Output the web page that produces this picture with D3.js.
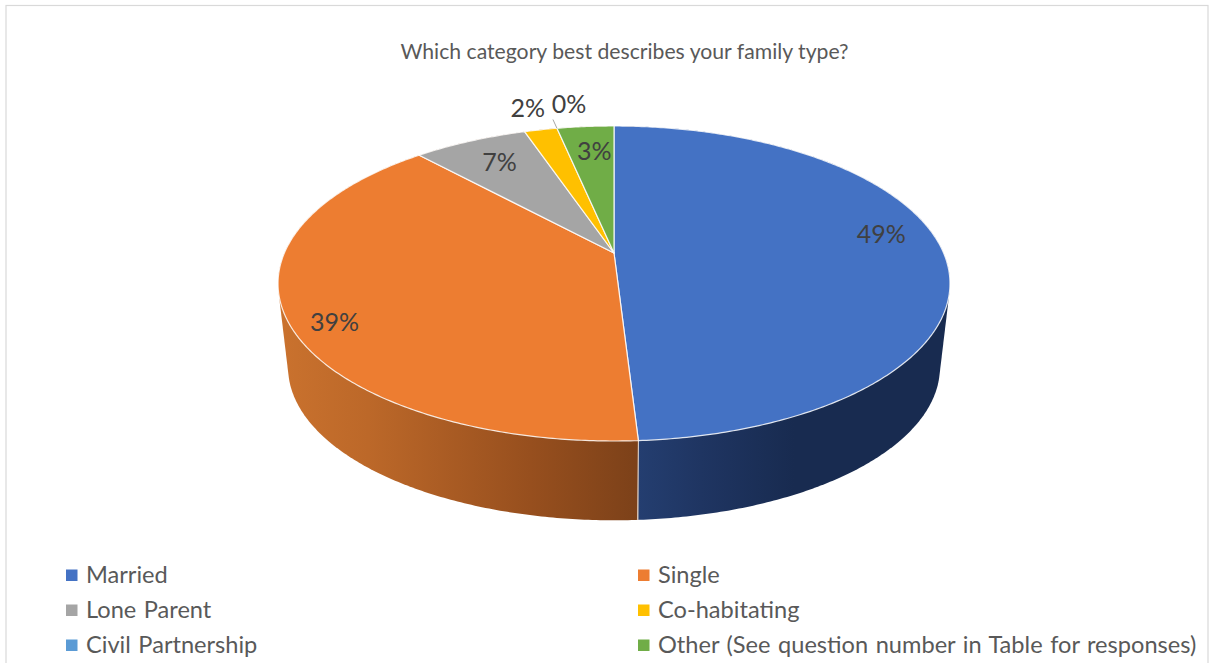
<!DOCTYPE html>
<html><head><meta charset="utf-8">
<script src="https://cdn.jsdelivr.net/npm/d3@7"></script>
<style>html,body{margin:0;padding:0;background:#fff}svg{display:block}text{font-family:Lato,"Open Sans",sans-serif}</style>
</head><body><div id="c"></div>
<script>
const titleText = "Which category best describes your family type?";
const categories = ["Married","Single","Lone Parent","Co-habitating","Civil Partnership","Other (See question number in Table for responses)"];
const values = [49.05,39.15,6.6,1.9,0,3.3];
const percentLabels = ["49%","39%","7%","2%","0%","3%"];
const colors = ["#4472c4","#ed7d31","#a5a5a5","#ffc000","#5b9bd5","#70ad47"];

const W=1213,H=663;
const svg=d3.select("#c").append("svg").attr("width",W).attr("height",H);
const defs=svg.append("defs");

// Perspective projection of the unit disc onto the tilted pie
const cx=614,hubY=253,a=329.6,b=151.6,k=-0.1937;
const depthScale=0.97,lowerHubY=337.9;
const project=(theta,r=1)=>{
  const u=r*Math.sin(theta),v=-r*Math.cos(theta),w=1+k*v;
  return [cx+a*u/w,hubY+b*v/w];
};
const lower=p=>[cx+(p[0]-cx)*depthScale,lowerHubY+(p[1]-hubY)*depthScale];
const rim=(t0,t1)=>{
  const n=Math.max(1,Math.ceil(Math.abs(t1-t0)/0.01));
  return d3.range(n+1).map(i=>project(t0+(t1-t0)*i/n));
};
const line=d3.line();

const arcs=d3.pie().sort(null).value(d=>d)(values);

// Chart frame
svg.append("rect").attr("x",6).attr("y",5.5).attr("width",1202).attr("height",H+10)
  .attr("fill","#fff").attr("stroke","#d9d9d9").attr("stroke-width",1.2);

svg.append("text").attr("x",624.5).attr("y",59).attr("text-anchor","middle")
  .attr("font-size",21.2).attr("fill","#595959").text(titleText);

// Side wall
const topRing=rim(0,2*Math.PI);
const hull=d3.polygonHull(topRing.concat(topRing.map(lower)));
const seamX=project(arcs[0].endAngle)[0];

const wallGrad=(id,x1,x2,stops)=>{
  const g=defs.append("linearGradient").attr("id",id).attr("gradientUnits","userSpaceOnUse")
    .attr("x1",x1).attr("x2",x2).attr("y1",0).attr("y2",0);
  stops.forEach(s=>g.append("stop").attr("offset",s[0]).attr("stop-color",s[1]));
};
wallGrad("wallBlue",seamX,950,[[0,"#243e70"],[0.2,"#1f3562"],[0.5,"#182b50"],[1,"#182b50"]]);
wallGrad("wallOrange",278,seamX,[[0,"#ca722e"],[0.25,"#bc6829"],[0.7,"#974f1e"],[1,"#7c4119"]]);

defs.append("clipPath").attr("id","clipR").append("rect").attr("x",seamX).attr("y",0).attr("width",W-seamX).attr("height",H);
defs.append("clipPath").attr("id","clipL").append("rect").attr("x",0).attr("y",0).attr("width",seamX).attr("height",H);

svg.append("path").attr("d",line(hull)+"Z").attr("fill","url(#wallOrange)").attr("clip-path","url(#clipL)");
svg.append("path").attr("d",line(hull)+"Z").attr("fill","url(#wallBlue)").attr("clip-path","url(#clipR)");
const seamTop=project(arcs[0].endAngle);
svg.append("path").attr("d",line([seamTop,lower(seamTop)])).attr("stroke","#e8dcd2").attr("stroke-width",1).attr("fill","none");

// Top faces
svg.append("g").selectAll("path").data(arcs.filter(d=>d.value>0)).join("path")
  .attr("d",d=>line([project(0,0)].concat(rim(d.startAngle,d.endAngle)))+"Z")
  .attr("fill",(d)=>colors[d.index])
  .attr("stroke","#fff").attr("stroke-opacity",0.85).attr("stroke-width",1.2).attr("stroke-linejoin","round");

// Leader line for the zero slice
const zero=arcs[4];
svg.append("path").attr("d",line([project(zero.startAngle),project(zero.startAngle,1.085)]))
  .attr("stroke","#a6a6a6").attr("stroke-width",1).attr("fill","none");

// Data labels: anchor on the slice bisector, then nudge
const labelRadius=[.8,.8,.8,1.15,1.15,.8];
const labelNudge=[[5,-15],[-21,19],[4,1],[-4,-7],[19,-9],[4,3]];
svg.append("g").selectAll("text").data(arcs).join("text")
  .attr("x",d=>project((d.startAngle+d.endAngle)/2,labelRadius[d.index])[0]+labelNudge[d.index][0])
  .attr("y",d=>project((d.startAngle+d.endAngle)/2,labelRadius[d.index])[1]+labelNudge[d.index][1])
  .attr("dy","0.36em").attr("text-anchor","middle").attr("font-size",25).attr("fill","#404040")
  .text(d=>percentLabels[d.index]);

// Legend
const legendX=d3.scalePoint().domain([0,1]).range([66,638]);
const legendY=d3.scalePoint().domain([0,1,2]).range([575,645]);
const leg=svg.append("g").selectAll("g").data(categories).join("g")
  .attr("transform",(d,i)=>`translate(${legendX(i%2)},${legendY(Math.floor(i/2))})`);
leg.append("rect").attr("x",0).attr("y",-5.5).attr("width",11.5).attr("height",11.5).attr("fill",(d,i)=>colors[i]);
leg.append("text").attr("x",20).attr("y",8).attr("font-size",23.6).attr("word-spacing",1.5).attr("fill","#595959").text(d=>d);
</script></body></html>
